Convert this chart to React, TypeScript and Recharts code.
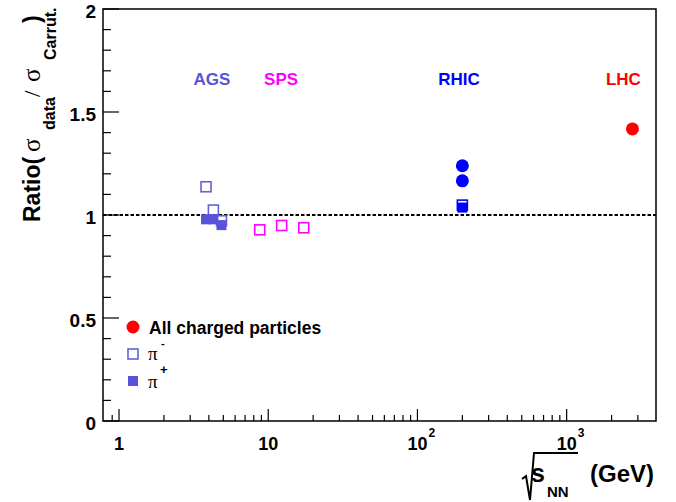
import React from 'react';
import { ScatterChart, Scatter, XAxis, YAxis, ReferenceLine, ReferenceArea, Legend } from 'recharts';

const FONT = '"Liberation Sans", Arial, Helvetica, sans-serif';
const SYM = '"Liberation Serif", "DejaVu Serif", serif';

// ---- data ----
const agsEnergy = [3.83, 4.29, 4.86];
const agsPiMinus = [1.137, 1.024, 0.972];
const agsPiPlus = [0.979, 0.979, 0.951];
const spsEnergy = [8.77, 12.3, 17.3];
const spsPiMinus = [0.928, 0.949, 0.938];
const rhicEnergy = [200, 200];
const rhicCharged = [1.239, 1.166];
const rhicPiMinus = [1.048];
const rhicPiPlus = [1.036];
const lhcEnergy = [2760];
const lhcCharged = [1.418];

const expNames = ['AGS', 'SPS', 'RHIC', 'LHC'];
const expX = [4.2, 12.2, 190, 2400];
const expY = [1.66, 1.66, 1.66, 1.66];
const expColors = ['#5a52d8', '#ff00ff', '#0000ff', '#ff0000'];

const xMajorTicks = [1, 10, 100, 1000];
const xMajorBase = ['1', '10', '10', '10'];
const xMajorExp = ['', '', '2', '3'];
const xMinorTicks = [0.9, 2, 3, 4, 5, 6, 7, 8, 9, 20, 30, 40, 50, 60, 70, 80, 90, 200, 300, 400, 500, 600, 700, 800, 900, 2000, 3000];
const yTicks = [0, 0.1, 0.2, 0.3, 0.4, 0.5, 0.6, 0.7, 0.8, 0.9, 1, 1.1, 1.2, 1.3, 1.4, 1.5, 1.6, 1.7, 1.8, 1.9, 2];
const yMajorTicks = [0, 0.5, 1, 1.5, 2];
const yMajorLabels = ['0', '0.5', '1', '1.5', '2'];

const X_DOMAIN = [0.781, 3970];
const Y_DOMAIN = [0, 2];

const PI_MINUS_COLOR = '#6262de';
const PI_PLUS_COLOR = '#5a52d8';

const zip = (xs: number[], ys: number[]) => ys.map((y, i) => ({ x: xs[i], y }));

const agsMinusData = zip(agsEnergy, agsPiMinus);
const agsPlusData = zip(agsEnergy, agsPiPlus);
const spsMinusData = zip(spsEnergy, spsPiMinus);
const rhicMinusData = zip(rhicEnergy, rhicPiMinus);
const rhicPlusData = zip(rhicEnergy, rhicPiPlus);
const rhicChargedData = zip(rhicEnergy, rhicCharged);
const lhcChargedData = zip(lhcEnergy, lhcCharged);
const expData = expNames.map((n, i) => ({ x: expX[i], y: expY[i], name: n, color: expColors[i] }));

const allXTicks = [...xMinorTicks, ...xMajorTicks].sort((a, b) => a - b);

// ---- shapes ----
const openSquare = (color: string) => (p: any) => (
  <rect x={p.cx - 5} y={p.cy - 5} width={10} height={10} fill="none" stroke={color} strokeWidth={1.6} />
);
const filledSquare = (color: string) => (p: any) => (
  <rect x={p.cx - 5} y={p.cy - 5} width={10} height={10} fill={color} stroke="none" />
);
const filledCircle = (color: string) => (p: any) => (
  <circle cx={p.cx} cy={p.cy} r={6.5} fill={color} stroke="none" />
);
const expLabel = (p: any) => (
  <text x={p.cx} y={p.cy + 6} textAnchor="middle" fontFamily={FONT} fontWeight="bold" fontSize={17} fill={p.payload.color}>
    {p.payload.name}
  </text>
);

// ---- ticks ----
const XTick = (props: any) => {
  const { x, y, payload } = props;
  const v = payload.value;
  const idx = xMajorTicks.indexOf(v);
  const major = idx >= 0;
  return (
    <g>
      <line x1={x} x2={x} y1={y} y2={y - (major ? 12 : 6)} stroke="#000" strokeWidth={1.2} />
      {major && (
        <text x={x} y={y + 29} textAnchor="middle" fontFamily={FONT} fontWeight="bold" fontSize={18} fill="#000">
          {xMajorBase[idx]}
        </text>
      )}
      {major && xMajorExp[idx] && (
        <text x={x + 11} y={y + 16} textAnchor="start" fontFamily={FONT} fontWeight="bold" fontSize={12} fill="#000">
          {xMajorExp[idx]}
        </text>
      )}
    </g>
  );
};

const YTick = (props: any) => {
  const { x, y, payload } = props;
  const v = payload.value;
  const idx = yMajorTicks.findIndex((t) => Math.abs(t - v) < 1e-9);
  const major = idx >= 0;
  return (
    <g>
      <line x1={x} x2={x + (major ? 16 : 8)} y1={y} y2={y} stroke="#000" strokeWidth={1.2} />
      {major && (
        <text x={x - 7} y={y + 8.5} textAnchor="end" fontFamily={FONT} fontWeight="bold" fontSize={19} fill="#000">
          {yMajorLabels[idx]}
        </text>
      )}
    </g>
  );
};

const XTitle = (props: any) => {
  const vb = props.viewBox || { x: 103, y: 421, width: 553, height: 81 };
  const r = vb.x + vb.width;
  const y = vb.y;
  return (
    <g>
      <path
        d={`M ${r - 134} ${y + 58} L ${r - 130} ${y + 55} L ${r - 126} ${y + 79} L ${r - 122} ${y + 32} L ${r - 78} ${y + 32}`}
        fill="none"
        stroke="#000"
        strokeWidth={2}
      />
      <text x={r - 125} y={y + 61} fontFamily={FONT} fontWeight="bold" fontSize={25} fill="#000">s</text>
      <text x={r - 109} y={y + 76} fontFamily={FONT} fontWeight="bold" fontSize={15} fill="#000">NN</text>
      <text x={r - 2} y={y + 61} textAnchor="end" fontFamily={FONT} fontWeight="bold" fontSize={24} fill="#000">(GeV)</text>
    </g>
  );
};

const YTitle = () => (
  <g transform="translate(40,222) rotate(-90)">
    <text x={0} y={0} fontFamily={FONT} fontWeight="bold" fontSize={23} fill="#000">Ratio(</text>
    <text x={70} y={0} fontFamily={SYM} fontSize={25} fill="#000">σ</text>
    <text x={92} y={15} fontFamily={FONT} fontWeight="bold" fontSize={16} fill="#000">data</text>
    <text x={125} y={0} fontFamily={SYM} fontSize={23} fill="#000">/</text>
    <text x={140} y={0} fontFamily={SYM} fontSize={25} fill="#000">σ</text>
    <text x={162} y={16} fontFamily={FONT} fontWeight="bold" fontSize={16} fill="#000">Carrut.</text>
    <text x={199} y={0} fontFamily={FONT} fontWeight="bold" fontSize={23} fill="#000">)</text>
  </g>
);

const LegendContent = () => (
  <svg width={230} height={85} style={{ display: 'block' }}>
    <circle cx={13} cy={15} r={6.5} fill="#ff0000" />
    <text x={29} y={21.5} fontFamily={FONT} fontWeight="bold" fontSize={17.5} fill="#000">All charged particles</text>
    <rect x={8} y={37} width={10} height={10} fill="none" stroke={PI_MINUS_COLOR} strokeWidth={1.6} />
    <text x={28} y={48} fontFamily={SYM} fontSize={19} fill="#000">π</text>
    <text x={41} y={35} fontFamily={FONT} fontWeight="bold" fontSize={11} fill="#000">-</text>
    <rect x={8} y={64} width={10} height={10} fill={PI_PLUS_COLOR} />
    <text x={28} y={76} fontFamily={SYM} fontSize={19} fill="#000">π</text>
    <text x={40} y={62} fontFamily={FONT} fontWeight="bold" fontSize={13} fill="#000">+</text>
  </svg>
);

export default function App() {
  return (
    <div style={{ position: 'absolute', left: 0, top: 0, width: 676, height: 502, background: '#fff' }}>
      <ScatterChart width={676} height={502} margin={{ top: 9, right: 20, bottom: 0, left: 0 }}>
        <XAxis
          type="number"
          dataKey="x"
          scale="log"
          domain={X_DOMAIN}
          allowDataOverflow
          ticks={allXTicks}
          interval={0}
          tick={<XTick />}
          tickLine={false}
          axisLine={false}
          tickSize={0}
          tickMargin={0}
          height={81}
          label={{ content: (p: any) => <XTitle {...p} /> }}
        />
        <YAxis
          type="number"
          dataKey="y"
          domain={Y_DOMAIN}
          allowDataOverflow
          ticks={yTicks}
          interval={0}
          tick={<YTick />}
          tickLine={false}
          axisLine={false}
          tickSize={0}
          tickMargin={0}
          width={103}
          label={{ content: () => <YTitle /> }}
        />
        <ReferenceArea x1={X_DOMAIN[0]} x2={X_DOMAIN[1]} y1={Y_DOMAIN[0]} y2={Y_DOMAIN[1]} fill="none" stroke="#000" strokeWidth={1.5} fillOpacity={0} />
        <ReferenceLine y={1} stroke="#000" strokeWidth={2} strokeDasharray="3.5 2" />
        <Scatter name="AGS pi-" data={agsMinusData} shape={openSquare(PI_MINUS_COLOR)} isAnimationActive={false} />
        <Scatter name="SPS pi-" data={spsMinusData} shape={openSquare('#ff00ff')} isAnimationActive={false} />
        <Scatter name="RHIC pi-" data={rhicMinusData} shape={openSquare('#0000ff')} isAnimationActive={false} />
        <Scatter name="AGS pi+" data={agsPlusData} shape={filledSquare(PI_PLUS_COLOR)} isAnimationActive={false} />
        <Scatter name="RHIC pi+" data={rhicPlusData} shape={filledSquare('#0000ff')} isAnimationActive={false} />
        <Scatter name="RHIC charged" data={rhicChargedData} shape={filledCircle('#0000ff')} isAnimationActive={false} />
        <Scatter name="LHC charged" data={lhcChargedData} shape={filledCircle('#ff0000')} isAnimationActive={false} />
        <Scatter name="labels" data={expData} shape={expLabel} isAnimationActive={false} />
        <Legend
          layout="vertical"
          align="center"
          verticalAlign="middle"
          wrapperStyle={{ position: 'absolute', left: 120, top: 312, width: 230, height: 85 }}
          content={() => <LegendContent />}
        />
      </ScatterChart>
    </div>
  );
}
